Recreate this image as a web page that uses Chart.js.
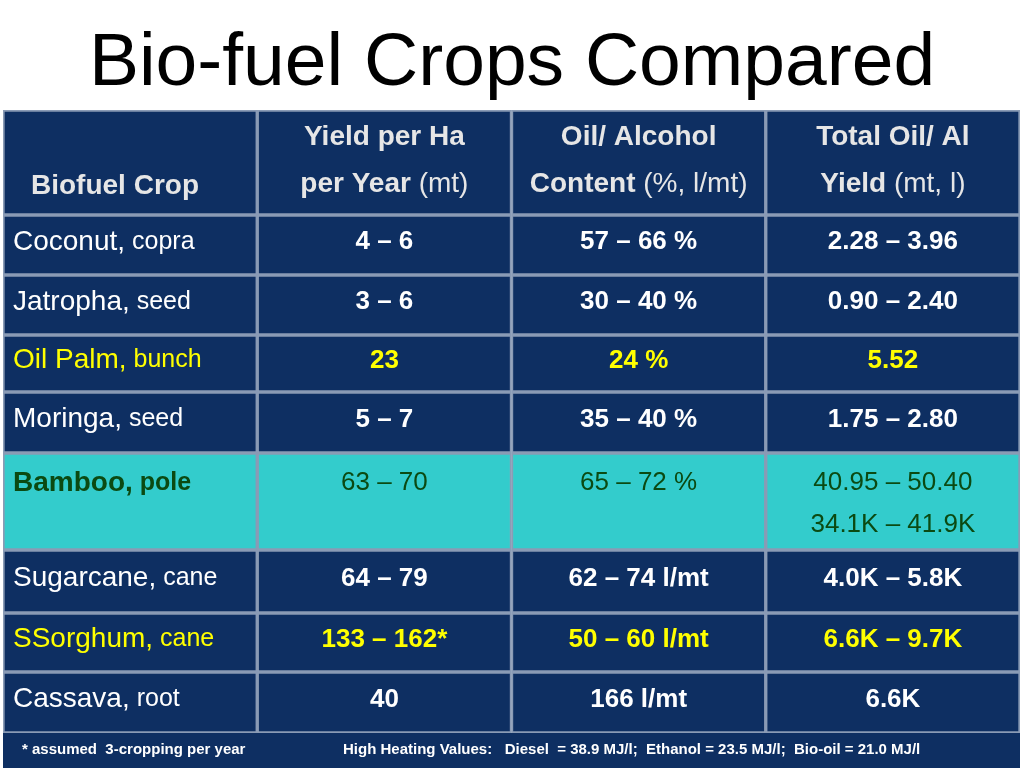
<!DOCTYPE html>
<html>
<head>
<meta charset="utf-8">
<script src="https://cdn.jsdelivr.net/npm/chart.js@4/dist/chart.umd.min.js"></script>
<style>
  body { margin: 0; background: #fff; }
  canvas { display: block; }
</style>
</head>
<body>
<canvas id="tbl" width="1024" height="768"></canvas>
<script>
// table data
const columns = ['crop', 'yield', 'content', 'total'];
const headerRuns = [
  [[['Biofuel Crop', true]]],
  [[['Yield per Ha', true]], [['per Year', true], [' (mt)', false]]],
  [[['Oil/ Alcohol', true]], [['Content', true], [' (%, l/mt)', false]]],
  [[['Total Oil/ Al', true]], [['Yield', true], [' (mt, l)', false]]]
];
const cropNames = ['Coconut,', 'Jatropha,', 'Oil Palm,', 'Moringa,', 'Bamboo,', 'Sugarcane,', 'SSorghum,', 'Cassava,'];
const cropParts = ['copra', 'seed', 'bunch', 'seed', 'pole', 'cane', 'cane', 'root'];
const yields = ['4 – 6', '3 – 6', '23', '5 – 7', '63 – 70', '64 – 79', '133 – 162*', '40'];
const contents = ['57 – 66 %', '30 – 40 %', '24 %', '35 – 40 %', '65 – 72 %', '62 – 74 l/mt', '50 – 60 l/mt', '166 l/mt'];
const totals = ['2.28 – 3.96', '0.90 – 2.40', '5.52', '1.75 – 2.80', '40.95 – 50.40\n34.1K – 41.9K', '4.0K – 5.8K', '6.6K – 9.7K', '6.6K'];
const rowStyle = ['plain', 'plain', 'yellow', 'plain', 'teal', 'plain', 'yellow', 'plain'];
const rowBounds = [110, 215, 275, 335, 392, 453, 550, 613, 672, 733];
const footLeft = '* assumed  3-cropping per year';
const footRight = 'High Heating Values:   Diesel  = 38.9 MJ/l;  Ethanol = 23.5 MJ/l;  Bio-oil = 21.0 MJ/l';

const NAVY = '#0e2f62', TEAL = '#33cccc', LINE = '#8a9bb5';
const FONT = '"Liberation Sans", Arial, sans-serif';

const datasets = [];
for (let r = 0; r < rowBounds.length - 1; r++) {
  const style = r === 0 ? 'header' : rowStyle[r - 1];
  datasets.push({
    data: columns.map(() => [rowBounds[r], rowBounds[r + 1]]),
    backgroundColor: style === 'teal' ? TEAL : NAVY,
    borderColor: LINE,
    borderWidth: 2,
    borderSkipped: false,
    grouped: false,
    barPercentage: 1,
    categoryPercentage: 1,
    rowIndex: r
  });
}

function drawRuns(ctx, runs, x, y, size, color, align) {
  let w = 0;
  runs.forEach(([t, b, s]) => { ctx.font = (b ? 'bold ' : '') + (s || size) + 'px ' + FONT; w += ctx.measureText(t).width; });
  let cx = align === 'center' ? x - w / 2 : x;
  ctx.fillStyle = color;
  ctx.textAlign = 'left';
  runs.forEach(([t, b, s]) => {
    ctx.font = (b ? 'bold ' : '') + (s || size) + 'px ' + FONT;
    ctx.fillText(t, cx, y);
    cx += ctx.measureText(t).width;
  });
}

const textPlugin = {
  id: 'cellText',
  afterDraw(chart) {
    const ctx = chart.ctx;
    ctx.save();
    ctx.textBaseline = 'middle';
    // title
    ctx.fillStyle = '#000';
    ctx.font = '75px ' + FONT;
    ctx.textAlign = 'center';
    ctx.fillText('Bio-fuel Crops Compared', 512, 64);

    chart.data.datasets.forEach((ds, di) => {
      const meta = chart.getDatasetMeta(di);
      meta.data.forEach((el, ci) => {
        const top = Math.min(el.y, el.base), bot = Math.max(el.y, el.base);
        const left = el.x - el.width / 2;
        const mid = (top + bot) / 2;
        if (ds.rowIndex === 0) {
          const lines = headerRuns[ci];
          if (lines.length === 1) {
            drawRuns(ctx, lines[0], left + 28, 186, 28, '#e6e6e6', 'left');
          } else {
            drawRuns(ctx, lines[0], el.x, 137, 28, '#e6e6e6', 'center');
            drawRuns(ctx, lines[1], el.x, 184, 28, '#e6e6e6', 'center');
          }
          return;
        }
        const r = ds.rowIndex - 1;
        const st = rowStyle[r];
        const color = st === 'yellow' ? '#ffff00' : st === 'teal' ? '#0b4a12' : '#ffffff';
        const ty = st === 'teal' ? top + 30 : mid - 3;
        if (ci === 0) {
          drawRuns(ctx, [[cropNames[r], st === 'teal', 28], [' ' + cropParts[r], st === 'teal', 25]], left + 10, ty, 27, color, 'left');
          return;
        }
        const txt = [null, yields, contents, totals][ci][r].split('\n');
        txt.forEach((t, i) => {
          drawRuns(ctx, [[t, st !== 'teal']], el.x, ty + i * 42, 26, color, 'center');
        });
      });
    });

    // footnote strip
    ctx.fillStyle = NAVY;
    ctx.fillRect(3, 733, 1017, 35);
    drawRuns(ctx, [[footLeft, true]], 22, 750, 15, '#ffffff', 'left');
    drawRuns(ctx, [[footRight, true]], 343, 750, 15, '#ffffff', 'left');
    ctx.restore();
  }
};

new Chart(document.getElementById('tbl'), {
  type: 'bar',
  data: { labels: columns, datasets: datasets },
  options: {
    responsive: false,
    animation: false,
    layout: { padding: { left: 3, right: 4, top: 110, bottom: 35 } },
    scales: {
      x: { display: false, offset: true },
      y: { display: false, min: 110, max: 733, reverse: true }
    },
    plugins: { legend: { display: false }, tooltip: { enabled: false } }
  },
  plugins: [textPlugin]
});
</script>
</body>
</html>
